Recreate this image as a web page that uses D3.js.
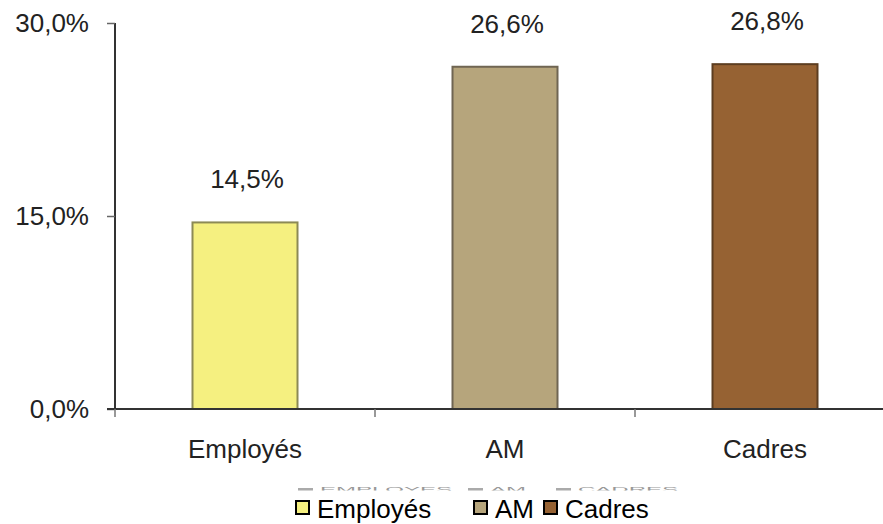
<!DOCTYPE html>
<html><head><meta charset="utf-8">
<script src="https://cdn.jsdelivr.net/npm/d3@7/dist/d3.min.js"></script>
<style>body{margin:0;background:#fff}svg{display:block}</style>
</head><body>
<svg id="c" width="883" height="524"></svg>
<script>
const categories = ["Employés", "AM", "Cadres"];
const values = [14.5, 26.6, 26.8];
const colors = ["#F5F080", "#B6A57C", "#966233"];
const strokes = ["#8C8A55", "#6F6552", "#5C3D20"];
const yTicks = [0, 15, 30];
const hiddenLegend = ["EMPLOYES", "AM", "CADRES"];

const FONT = "Liberation Sans, Arial, sans-serif";
const svg = d3.select("#c");
const fmt = v => v.toFixed(1).replace(".", ",") + "%";

const x = d3.scaleBand().domain(categories).range([115, 895]).paddingInner(0).paddingOuter(0);
const y = d3.scaleLinear().domain([0, 30]).range([409, 23]);
const bw = 105;

// bars
svg.selectAll("rect.bar").data(values).enter().append("rect")
  .attr("x", (d, i) => x(categories[i]) + x.bandwidth() / 2 - bw / 2)
  .attr("y", d => y(d))
  .attr("width", bw)
  .attr("height", d => y(0) - y(d))
  .attr("fill", (d, i) => colors[i])
  .attr("stroke", (d, i) => strokes[i])
  .attr("stroke-width", 2);

// value labels
svg.selectAll("text.val").data(values).enter().append("text")
  .attr("x", (d, i) => x(categories[i]) + x.bandwidth() / 2 + 2)
  .attr("y", d => y(d) - 34)
  .attr("text-anchor", "middle")
  .attr("font-family", FONT)
  .attr("font-size", 26)
  .attr("fill", "#222")
  .text(d => fmt(d));

// y axis
const yAxis = svg.append("g").attr("transform", "translate(115,0)")
  .call(d3.axisLeft(y).tickValues(yTicks).tickSize(8).tickPadding(18).tickFormat(fmt));
yAxis.select(".domain").attr("stroke", "#333").attr("stroke-width", 2).attr("d", "M0,23V409");
yAxis.selectAll(".tick line").attr("stroke", "#666").attr("stroke-width", 1.5);
yAxis.selectAll(".tick text").attr("font-family", FONT)
  .attr("font-size", 26).attr("fill", "#222");

// x axis
const xAxis = svg.append("g").attr("transform", "translate(0,409)")
  .call(d3.axisBottom(x).tickSize(0).tickPadding(31));
xAxis.select(".domain").attr("stroke", "#333").attr("stroke-width", 2).attr("d", "M107,0H883");
xAxis.selectAll(".tick text").attr("font-family", FONT)
  .attr("font-size", 26).attr("fill", "#222");
// boundary ticks
svg.selectAll("line.bt").data(categories).enter().append("line")
  .attr("x1", d => x(d)).attr("x2", d => x(d))
  .attr("y1", 409).attr("y2", 417)
  .attr("stroke", "#777").attr("stroke-width", 1.5);

// partially hidden legend behind (only its top edge shows)
svg.append("clipPath").attr("id", "clipH").append("rect")
  .attr("x", 0).attr("y", 486).attr("width", 883).attr("height", 4.5);
const hg = svg.append("g").attr("clip-path", "url(#clipH)");
const hx = [298, 468, 556];
hiddenLegend.forEach((t, i) => {
  hg.append("rect").attr("x", hx[i]).attr("y", 488).attr("width", 15).attr("height", 6).attr("fill", "#aaa");
  hg.append("text").attr("transform", `translate(${hx[i] + 22},492) scale(1,0.3)`)
    .attr("font-family", FONT).attr("font-size", 24)
    .attr("fill", "#999").text(t);
});

// legend
const lx = [295, 473, 543];
const lg = svg.append("g");
categories.forEach((c, i) => {
  lg.append("rect").attr("x", lx[i] + 1).attr("y", 501).attr("width", 13).attr("height", 13)
    .attr("fill", colors[i]).attr("stroke", "#000").attr("stroke-width", 2);
  lg.append("text").attr("x", lx[i] + 22).attr("y", 518)
    .attr("font-family", FONT).attr("font-size", 26)
    .attr("fill", "#000").text(c);
});
</script>
</body></html>
